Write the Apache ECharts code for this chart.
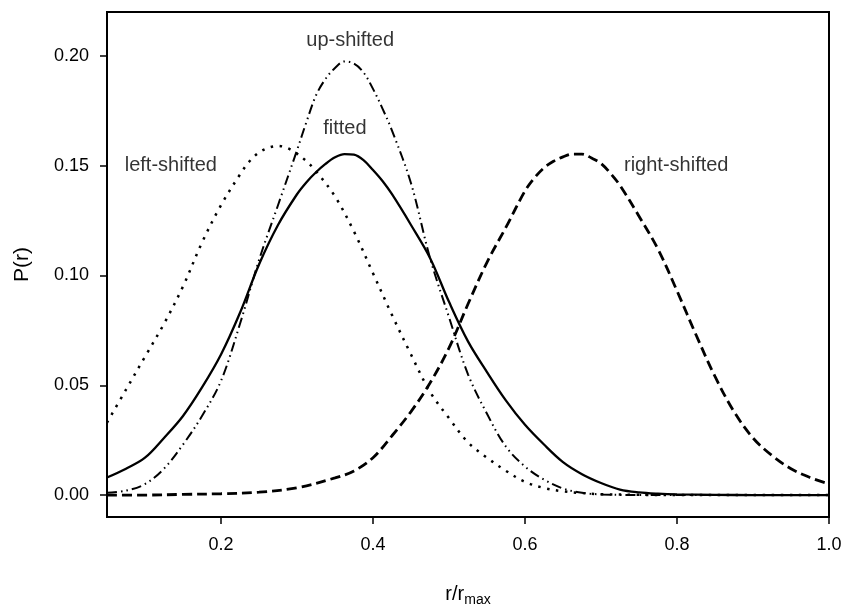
<!DOCTYPE html>
<html>
<head>
<meta charset="utf-8">
<script src="https://cdn.jsdelivr.net/npm/echarts@6/dist/echarts.min.js"></script>
<style>
html,body{margin:0;padding:0;background:#fff;}
#chart{width:846px;height:605px;}
</style>
</head>
<body>
<div id="chart"></div>
<script>
// ---- data ----
const fittedX = [0.05,0.075,0.10,0.125,0.15,0.175,0.20,0.225,0.25,0.275,0.30,0.3125,0.325,0.3375,0.35,0.3625,0.375,0.3875,0.40,0.4125,0.425,0.45,0.475,0.50,0.525,0.55,0.575,0.60,0.625,0.65,0.675,0.70,0.725,0.75,0.775,0.80,0.85,0.90,0.95,1.0];
const fittedY = [0.008,0.012,0.017,0.026,0.036,0.049,0.064,0.083,0.105,0.123,0.137,0.1425,0.147,0.1508,0.1538,0.1553,0.155,0.1525,0.148,0.143,0.137,0.123,0.108,0.088,0.070,0.056,0.043,0.032,0.023,0.015,0.0095,0.0055,0.0025,0.0012,0.0006,0.0003,0.0001,0,0,0];

const upX = [0.05,0.075,0.10,0.125,0.15,0.175,0.20,0.225,0.25,0.275,0.30,0.3125,0.325,0.3375,0.35,0.3625,0.375,0.3875,0.40,0.4125,0.425,0.45,0.475,0.50,0.525,0.55,0.575,0.60,0.625,0.65,0.675,0.70,0.75,0.80,0.90,1.0];
const upY = [0.001,0.002,0.005,0.012,0.023,0.036,0.052,0.078,0.107,0.132,0.157,0.170,0.182,0.1895,0.1945,0.1975,0.1965,0.1925,0.185,0.176,0.166,0.142,0.108,0.081,0.055,0.037,0.022,0.013,0.007,0.003,0.001,0.0003,0,0,0,0];

const leftX = [0.05,0.075,0.10,0.125,0.15,0.175,0.20,0.225,0.2375,0.25,0.2625,0.275,0.2875,0.30,0.3125,0.325,0.35,0.375,0.40,0.425,0.45,0.475,0.50,0.525,0.55,0.575,0.60,0.625,0.65,0.675,0.70,0.75,0.80,0.90,1.0];
const leftY = [0.033,0.048,0.063,0.078,0.095,0.115,0.132,0.146,0.152,0.156,0.1582,0.159,0.158,0.1555,0.152,0.1475,0.136,0.120,0.101,0.082,0.064,0.047,0.035,0.024,0.017,0.011,0.006,0.0032,0.0017,0.0009,0.0004,0.0001,0,0,0];

const rightX = [0.05,0.10,0.15,0.20,0.25,0.30,0.35,0.375,0.40,0.425,0.45,0.475,0.50,0.525,0.55,0.575,0.60,0.6125,0.625,0.6375,0.65,0.6625,0.675,0.6875,0.70,0.7125,0.725,0.75,0.775,0.80,0.825,0.85,0.875,0.90,0.925,0.95,0.975,1.0];
const rightY = [0,0,0.0003,0.0006,0.0013,0.0033,0.0078,0.011,0.017,0.027,0.038,0.051,0.067,0.087,0.106,0.122,0.1385,0.1445,0.149,0.152,0.154,0.1553,0.1553,0.1535,0.151,0.1465,0.141,0.127,0.112,0.093,0.073,0.054,0.038,0.026,0.018,0.012,0.008,0.005];

const labelNames = ['up-shifted','fitted','left-shifted','right-shifted'];
const labelX = [0.370,0.363,0.134,0.799];
const labelY = [0.2070,0.1668,0.1500,0.1500];

const xTicks = [0.2,0.4,0.6,0.8,1.0];
const yTicks = [0.00,0.05,0.10,0.15,0.20];

// ---- chart ----
const zip = (xs, ys) => xs.map((x, i) => [x, ys[i]]);
const FONT = '"Liberation Sans", Arial, sans-serif';
const chart = echarts.init(document.getElementById('chart'), null, {renderer: 'canvas'});

const lineBase = {
  type: 'line', showSymbol: false, symbol: 'none', smooth: 0.35, silent: true,
  z: 3
};

chart.setOption({
  animation: false,
  backgroundColor: '#fff',
  grid: {left: 107, right: 17, top: 12, bottom: 88, outerBoundsMode: 'none', containLabel: false,
    show: true, borderColor: '#000', borderWidth: 2, backgroundColor: 'transparent'},
  xAxis: {
    type: 'value', min: 0.05, max: 1.0,
    splitLine: {show: false},
    axisLine: {show: true, onZero: false, lineStyle: {color: '#000', width: 2}},
    axisTick: {show: true, inside: false, length: 7, lineStyle: {color: '#000', width: 1.5}, customValues: xTicks},
    axisLabel: {customValues: xTicks, formatter: v => v.toFixed(1), color: '#000', fontSize: 18, fontFamily: FONT, margin: 19},
    name: 'r/r{sub|max}',
    nameLocation: 'middle', nameGap: 64,
    nameTextStyle: {color: '#000', fontSize: 20, fontFamily: FONT,
      rich: {sub: {fontSize: 14, fontFamily: FONT, color: '#000', verticalAlign: 'bottom', padding: [12, 0, 0, 0]}}}
  },
  yAxis: {
    type: 'value', min: -0.01, max: 0.22,
    splitLine: {show: false},
    axisLine: {show: true, onZero: false, lineStyle: {color: '#000', width: 2}},
    axisTick: {show: true, inside: false, length: 7, lineStyle: {color: '#000', width: 1.5}, customValues: yTicks},
    axisLabel: {customValues: yTicks, formatter: v => v.toFixed(2), color: '#000', fontSize: 18, fontFamily: FONT, margin: 18},
    name: 'P(r)', nameLocation: 'middle', nameRotate: 90, nameGap: 74,
    nameTextStyle: {color: '#000', fontSize: 21, fontFamily: FONT}
  },
  series: [
    Object.assign({}, lineBase, {name: 'left-shifted', data: zip(leftX, leftY),
      lineStyle: {color: '#000', width: 2.5, type: [2.5, 6.5], cap: 'butt'}}),
    Object.assign({}, lineBase, {name: 'right-shifted', data: zip(rightX, rightY),
      lineStyle: {color: '#000', width: 2.8, type: [10, 5]}}),
    Object.assign({}, lineBase, {name: 'up-shifted', data: zip(upX, upY),
      lineStyle: {color: '#000', width: 2, type: [10, 4, 1.5, 4, 1.5, 4]}}),
    Object.assign({}, lineBase, {name: 'fitted', data: zip(fittedX, fittedY),
      lineStyle: {color: '#000', width: 2.3, type: 'solid'}}),
    {
      type: 'scatter', name: 'labels', symbolSize: 0, silent: true, z: 5,
      data: labelNames.map((n, i) => ({name: n, value: [labelX[i], labelY[i]]})),
      label: {show: true, position: 'inside', formatter: p => p.name, color: '#000',
        textBorderWidth: 0, textBorderColor: 'transparent', fontSize: 20, fontFamily: FONT}
    }
  ]
});
</script>
</body>
</html>
